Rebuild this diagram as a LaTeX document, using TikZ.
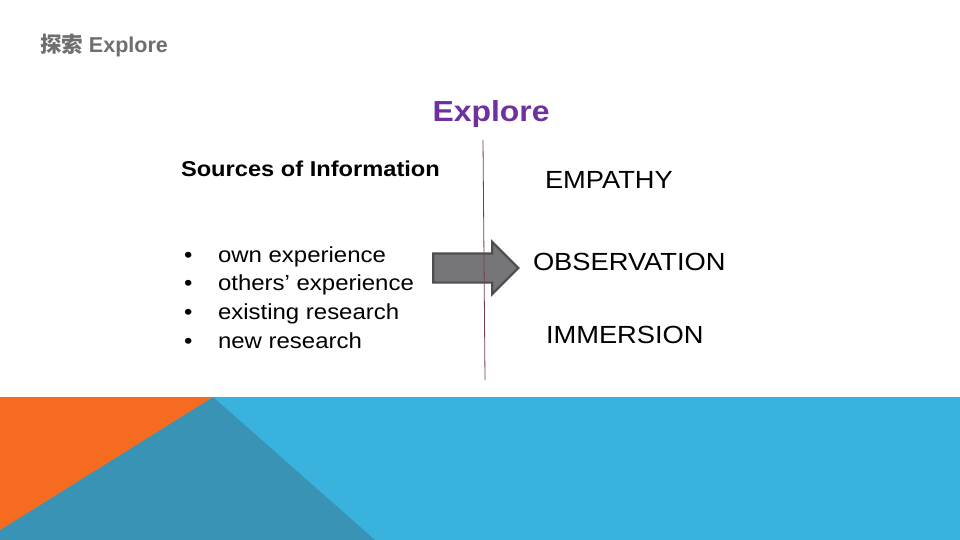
\documentclass[tikz,border=0pt]{standalone}
\usepackage{xcolor}
\usepackage{fontspec}
\setmainfont{Liberation Sans}[FakeStretch=1.1]
\newfontfamily\plainfont{Liberation Sans}
\newfontfamily\cjkfont{Noto Sans CJK SC}
\usetikzlibrary{shapes.arrows, positioning, calc}
\definecolor{slidegray}{RGB}{110,110,110}
\definecolor{titlepurple}{RGB}{112,48,160}
\definecolor{linered}{RGB}{120,60,75}
\definecolor{arrowfill}{RGB}{118,118,122}
\definecolor{arrowdraw}{RGB}{78,78,82}
\definecolor{bandorange}{RGB}{245,108,32}
\definecolor{bandlight}{RGB}{58,178,222}
\definecolor{banddark}{RGB}{57,147,180}

\begin{document}
\begin{tikzpicture}[
		x=1pt, y=-1pt,
		every node/.style={inner sep=0pt, outer sep=0pt},
		heading/.style={anchor=base west, font=\fontsize{21.5}{25}\selectfont\bfseries, text=black},
		item/.style={anchor=base west, font=\fontsize{21.8}{25}\selectfont, text=black},
		mode/.style={anchor=base west, font=\fontsize{24.8}{30}\selectfont, text=black},
		blockarrow/.style={single arrow, draw=arrowdraw, fill=arrowfill, line width=2.2pt,
			minimum height=85pt, minimum width=50pt, inner ysep=13.5pt, inner xsep=0pt,
			single arrow head extend=11.5pt}
		]
		\useasboundingbox (0,0) rectangle (960,540);
		\fill[white] (0,0) rectangle (960,540);
		
		% Bottom band
		\fill[bandlight] (0,397) rectangle (960,540);
		\fill[banddark] (213,397) -- (375,540) -- (0,540) -- (0,530) -- cycle;
		\fill[bandorange] (0,397) -- (213,397) -- (0,530) -- cycle;
		
		% Titles
		\node[anchor=base west, font=\fontsize{21.5}{25}\selectfont\plainfont\bfseries, text=slidegray] (slidetitle) at (40,53) {{\cjkfont 探索} Explore};
		\node[anchor=base, font=\fontsize{29}{35}\selectfont\bfseries, text=titlepurple] (title) at (491,122) {Explore};
		
		% Sources
		\node[heading] (sources) at (181,176) {Sources of Information};
		\foreach \txt [count=\i] in {own experience, others’ experience, existing research, new research} {
			\node[item] (bullet\i) at (184,{262+28.7*(\i-1)}) {•};
			\node[item] (source\i) at (218,{262+28.7*(\i-1)}) {\txt};
		}
		
		% Arrow
		\node[blockarrow] (flow) at (468.5,268) {};
		
		% Divider
		\coordinate (divtop) at (483,140);
		\coordinate (divbottom) at (485,380);
		\draw[linered, line width=0.8pt] (divtop) -- (divbottom);
		
		% Modes
		\node[mode] (empathy) at (545,188) {EMPATHY};
		\node[mode] (observation) at (533,270) {OBSERVATION};
		\node[mode] (immersion) at (546,343) {IMMERSION};
		
	\end{tikzpicture}
\end{document}
